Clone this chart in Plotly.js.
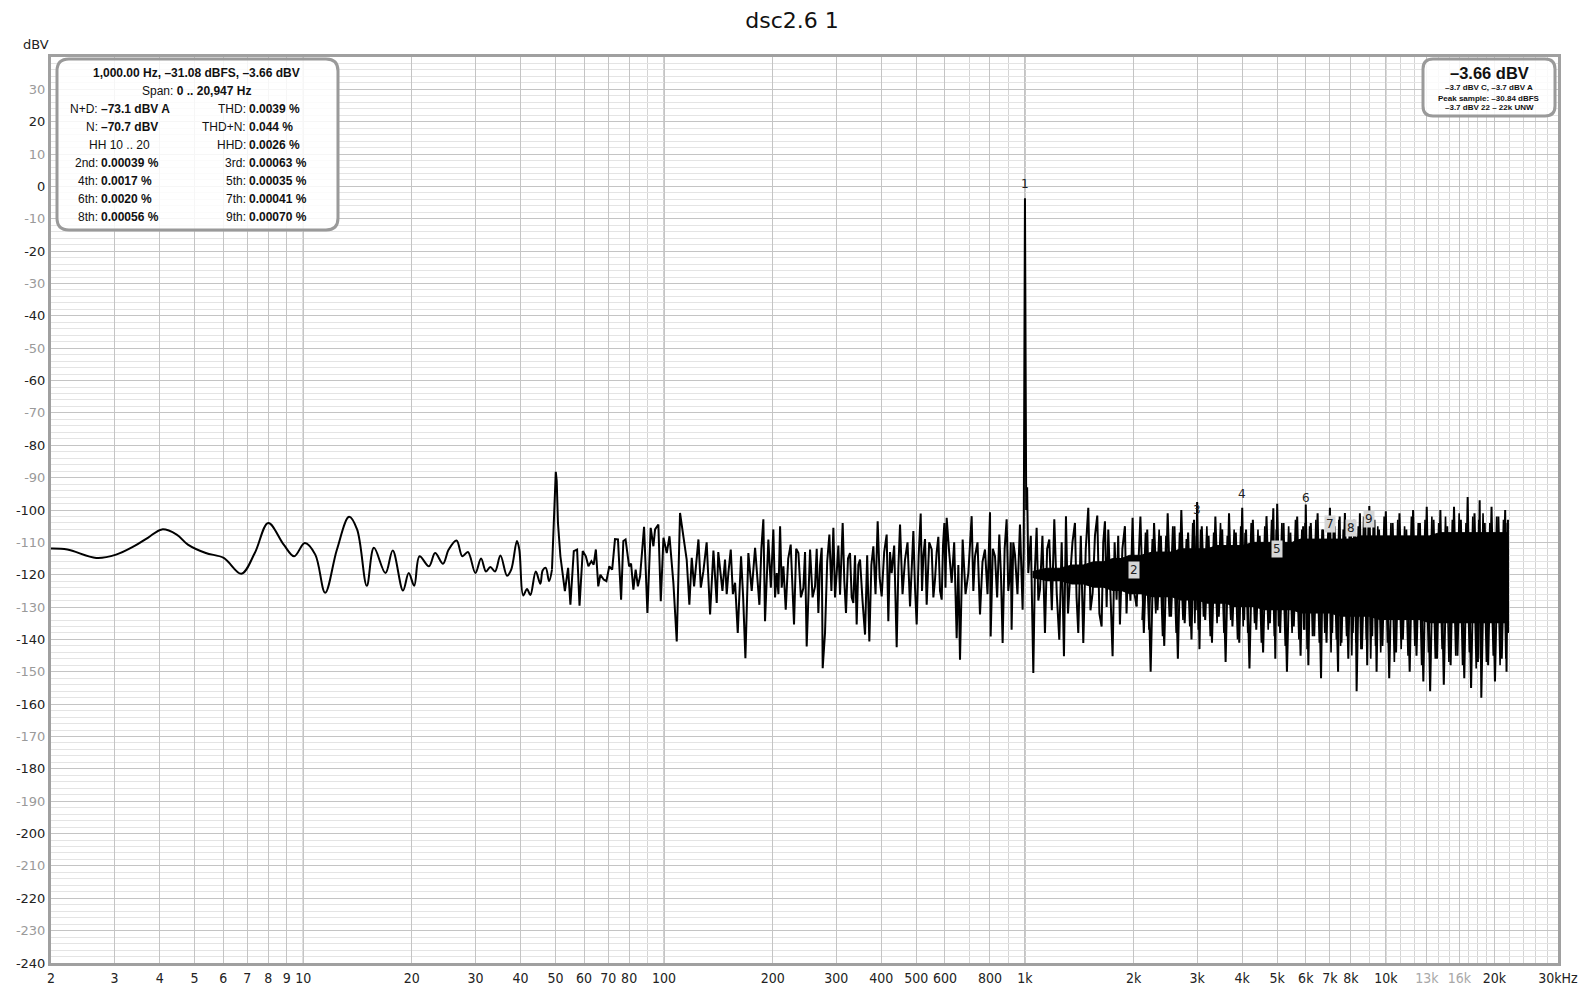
<!DOCTYPE html>
<html><head><meta charset="utf-8">
<script src="https://cdn.plot.ly/plotly-3.0.1.min.js"></script>
<style>html,body{margin:0;padding:0;background:#fff}#chart{width:1584px;height:989px}</style>
</head><body><div id="chart"></div>
<script>
// ---- data ----
const lowFreq = [2, 2.22, 2.67, 3.03, 3.40, 3.71, 4.06, 4.46, 4.79, 5.37,
  6.02, 6.74, 7.34, 8.0, 8.83, 9.44, 10.1, 10.8, 11.5, 12.4,
  13.4, 14.1, 15.0, 15.7, 16.9, 17.7, 18.9, 19.6, 20.3, 21.0,
  22.3, 23.2, 24.4, 25.3, 26.6, 27.6, 28.6, 30.0, 31.1, 32.1,
  33.0, 34.0, 35.2, 36.7, 37.7, 39.1, 39.7, 40.7, 41.7, 42.6,
  44.1, 45.4, 46.1, 47.0, 48.0, 48.9];
const lowLevel = [-111.9, -112.2, -114.8, -113.8, -111.2, -108.6, -106.0, -107.6, -110.7, -113.3,
  -114.8, -119.7, -113.3, -104.0, -110.7, -114.3, -110.2, -113.8, -125.6, -112.2,
  -102.1, -106.0, -123.4, -111.7, -119.5, -112.5, -124.9, -119.5, -123.4, -114.3,
  -117.4, -113.3, -116.6, -112.2, -109.4, -114.3, -113.0, -119.5, -115.0, -119.0,
  -117.6, -119.0, -114.1, -120.3, -118.4, -109.6, -112.2, -126.4, -124.4, -126.3,
  -119.0, -122.8, -118.6, -117.9, -122.0, -118.4];

// 49 Hz .. 2 kHz
const midFreq = [48.9, 49.4, 49.8, 50.1, 50.4, 50.8, 51.6, 53.1, 54.2, 55.0,
  56.2, 57.4, 58.3, 59.5, 60.7, 61.7, 62.9, 63.8, 64.7, 65.7,
  66.6, 68.0, 69.2, 70.5, 71.8, 73.1, 74.5, 76.0, 77.1, 78.2,
  80.0, 81.0, 82.2, 83.4, 84.6, 85.8, 88.0, 89.9, 91.8, 93.4,
  94.4, 96.4, 97.9, 99.6, 101.7, 103.5, 106.1, 108.4, 110.7, 113.1,
  115.5, 117.5, 119.3, 121.1,
  124.5, 126.4, 128.5, 131.2, 134.1, 137.0, 139.9, 141.3, 142.9, 145.1,
  147.5, 149.1, 150.7, 153.0, 155.1, 157.3, 160.0, 163.4, 165.6, 168.0,
  171.2, 174.9, 178.7, 181.2, 183.7, 186.0, 188.4, 190.4, 194.5, 197.6,
  200.8, 203.0, 205.2, 207.4, 209.6, 211.8, 214.1, 217.3, 220.8, 224.3,
  226.7, 229.1, 232.3, 235.6, 239.4, 243.2, 245.8, 248.4, 253.8, 257.9,
  262.0, 264.8, 267.6, 270.5, 273.4, 275.1, 279.2, 283.1, 287.1, 290.8,
  294.5, 297.6, 300.8, 304.0, 307.3, 309.9, 312.5, 315.8, 319.2, 323.3,
  327.5, 331.0, 334.5, 338.1, 341.7, 345.4, 349.1, 354.7, 360.4, 365.4,
  370.5, 375.3, 380.1, 385.4, 390.7, 395.7, 400.8, 407.3, 413.8, 418.2,
  422.7, 427.2, 434.1, 441.1, 445.8, 450.6, 457.9, 465.2, 472.7, 480.3,
  485.4, 490.6, 495.8, 501.1, 507.6, 514.1, 518.5, 522.9, 528.5, 534.1,
  542.8, 551.5, 557.4, 563.3, 569.3, 575.4, 581.6, 587.8, 592.8, 597.9,
  602.3, 606.8, 616.6, 626.5, 636.6, 646.8, 653.7, 660.7, 672.0, 684.4,
  696.8, 704.2, 711.7, 719.3, 727.0, 738.8, 750.6, 762.7, 774.9, 787.5,
  800.1, 803.5, 814.7, 826.0, 837.4, 848.9, 858.0, 867.2, 878.4, 889.6,
  899.1, 908.7, 913.5, 918.4, 928.2, 938.1, 953.3, 968.6, 985.2, 992,
  996, 998, 1000, 1002, 1004, 1008, 1014,
  1021.5, 1038, 1054.7, 1066, 1077.3, 1089, 1100.5, 1118, 1136.1, 1152,
  1167.9, 1187, 1205.8, 1225, 1244.9, 1264, 1282.5, 1299.0, 1316, 1332.6,
  1354, 1375.7, 1390, 1405.3, 1428, 1450.9, 1474, 1497.9, 1519, 1539.9,
  1563, 1586.4, 1608, 1630.9, 1648, 1666, 1684, 1701.8, 1725, 1749.3,
  1772, 1794.4, 1813, 1833.0, 1862, 1892.4, 1912, 1933.1, 1960, 1987.2,
  2012, 2038.6];
const midLevel = [-118.4, -104, -91, -88.2, -91, -104, -114.3, -125.1, -117.9, -129.3,
  -112.7, -112.2, -129.6, -112.7, -114.3, -117.4, -115.8, -116.9, -112.2, -123.6,
  -120.0, -121.5, -122.0, -117.4, -118.4, -109.0, -109.1, -127.7, -109.6, -109.1,
  -117.4, -116.6, -124.6, -118.4, -123.6, -120.5, -105.2, -131.8, -105.5, -111.2,
  -106.0, -104.5, -128.2, -108.6, -113.3, -108.1, -122.5, -140.6, -100.9, -108.1,
  -115.3, -129.3, -114.8, -123.6,
  -109.1, -124, -118.9, -110, -132.3, -112.5, -128.7, -113, -117.4, -125,
  -115.3, -126, -119.5, -112.2, -126, -122.5, -138.0, -114.3, -127, -145.8,
  -113.3, -125, -111.7, -120, -129.3, -112, -102.9, -134.4, -109.1, -124,
  -106.0, -127, -119.5, -126, -105.0, -124, -117.4, -130.8, -115, -110.7,
  -122, -135.4, -112, -113.3, -127, -124.1, -113, -142.2, -112.2, -127,
  -123.6, -112, -131.8, -117, -111.7, -148.9, -138.0, -116, -107.6, -125,
  -105.5, -127, -119.5, -111, -126.2, -115, -104.0, -122, -131.8, -115,
  -113.3, -127, -128.7, -114, -135.4, -117, -115.3, -128, -138.5, -114,
  -140.6, -117, -111.2, -126, -103.5, -121, -126.7, -113, -107.6, -134.4,
  -113, -119.5, -111, -142.4, -118, -104.5, -126, -115.3, -110, -129.8,
  -116, -106.5, -124, -135.4, -114, -101.1, -125, -114.3, -109, -129.3,
  -110, -112.2, -127, -121.5, -113, -108.3, -125, -127.7, -111, -104.0,
  -124, -102.4, -113, -122.5, -110, -139.6, -117, -146.3, -109.1, -126,
  -119.5, -112, -101.9, -125, -114.3, -110, -132.3, -116, -112.2, -126,
  -100.7, -139.1, -112, -114.3, -127, -107.6, -120, -141.1, -112, -102.9,
  -125, -119.5, -110, -137.0, -110, -113.8, -126, -104.5, -130.8, -112,
  -80, -30, -3.66, -30, -80, -100, -93,
  -119.5, -108, -150.4, -118, -105.5, -128, -124.6, -108, -138.0, -112,
  -109.1, -131, -102.9, -126, -140.1, -110, -145.2, -101.9, -132, -121.5,
  -110, -104.0, -127, -138.0, -108, -141.1, -112, -99.3, -131, -125.6,
  -108, -101.7, -132, -136.0, -110, -103.5, -130, -106.0, -128, -145.2,
  -110, -127.7, -108, -135.4, -112, -105.0, -132, -114.3, -128, -102.4,
  -126, -129.8];

// 2 kHz .. 22 kHz spikes (alternating up / down)
const hiFreq = [2089, 2135, 2182, 2230, 2279, 2329, 2380, 2432, 2486, 2540,
  2596, 2653, 2712, 2771, 2832, 2894, 2940, 2975, 3000, 3045,
  3090, 3158, 3227, 3298, 3370, 3444, 3520, 3598, 3677, 3758,
  3840, 3925, 4000, 4050, 4099, 4189, 4281, 4375, 4471, 4570,
  4670, 4773, 4878, 4940, 5000, 5095, 5207, 5321, 5438, 5558,
  5680, 5805, 5900, 5950, 6000, 6100, 6196, 6332, 6471, 6614,
  6700, 6850, 7000, 7100, 7215, 7374, 7450, 7536, 7702, 7871,
  8000, 8100, 8221, 8300, 8476, 8587, 8776, 8880, 9000, 9166,
  9300, 9427, 9574, 9784, 10000, 10219, 10444, 10674, 10909, 11149,
  11394, 11645, 11901, 12163, 12430, 12704, 12983, 13269, 13561, 13859,
  14164, 14476, 14794, 15120, 15452, 15792, 16140, 16495, 16858, 17229,
  17608, 17995, 18200, 18391, 18796, 19209, 19632, 20064, 20505, 20956,
  21417, 21600, 21800, 21810];
const hiLevel = [-102, -138, -106, -150, -104, -131, -108, -142, -101, -133,
  -105, -146, -100, -135, -107, -140, -103, -131, -97.5, -143,
  -105, -134, -108, -141, -102, -133, -106, -147, -101, -136,
  -107, -141, -99.3, -134, -106, -149, -103, -137, -108, -144,
  -101.9, -135, -99.5, -146, -98.1, -138, -104, -150, -107, -136,
  -102, -145, -105, -137, -98.3, -148, -104, -139, -101, -152,
  -106, -141, -99.3, -138, -105, -150, -102, -141, -100.9, -146,
  -104, -138, -107, -156, -101, -143, -105, -148, -98.8, -139,
  -103, -150, -106, -142, -100.4, -152, -104, -144, -101, -140,
  -106, -150, -100, -145, -104, -153, -99, -156, -103, -146,
  -100, -154, -105, -148, -99, -145, -103, -152, -96, -155,
  -101, -147, -97, -158, -104, -148, -99, -153, -102, -146,
  -100, -150, -103, -138];
// the bins in between the spikes above
const hiFreq2 = [2112, 2158, 2206, 2254, 2304, 2354, 2406, 2459, 2513, 2568,
  2624, 2682, 2741, 2801, 2863, 2917, 2957, 2988, 3022, 3067,
  3124, 3192, 3262, 3334, 3407, 3482, 3559, 3637, 3717, 3799,
  3882, 3962, 4025, 4074, 4144, 4235, 4328, 4423, 4520, 4620,
  4721, 4825, 4909, 4970, 5047, 5151, 5264, 5379, 5498, 5619,
  5742, 5852, 5925, 5975, 6050, 6148, 6264, 6401, 6542, 6657,
  6775, 6925, 7050, 7157, 7294, 7412, 7493, 7619, 7786, 7935,
  8050, 8160, 8260, 8388, 8531, 8681, 8828, 8940, 9083, 9233,
  9363, 9500, 9679, 9892, 10109, 10331, 10559, 10791, 11029, 11271,
  11519, 11773, 12032, 12296, 12567, 12843, 13126, 13415, 13710, 14011,
  14320, 14635, 14957, 15286, 15622, 15966, 16317, 16676, 17043, 17418,
  17801, 18097, 18295, 18593, 19002, 19420, 19848, 20284, 20730, 21186,
  21508, 21700];
const hiLevel2 = [-134, -107, -137, -109, -132, -106, -139, -108, -133, -105,
  -138, -107, -134, -109, -136, -104, -135, -108, -137, -106,
  -133, -105, -139, -107, -135, -104, -138, -108, -134, -106,
  -140, -105, -136, -107, -138, -104, -135, -106, -141, -105,
  -137, -103, -139, -106, -136, -104, -142, -105, -138, -103,
  -140, -106, -137, -104, -143, -105, -139, -103, -141, -106,
  -138, -104, -144, -105, -140, -103, -142, -106, -139, -104,
  -145, -103, -141, -105, -143, -102, -140, -104, -146, -103,
  -142, -105, -144, -102, -141, -104, -147, -103, -143, -105,
  -145, -102, -142, -104, -148, -103, -144, -102, -146, -104,
  -143, -102, -147, -103, -145, -101, -148, -104, -144, -102,
  -149, -103, -146, -101, -147, -104, -145, -102, -148, -103,
  -146, -104];

// dense noise core (upper / lower edge of the solid black band)
const bandFreq = [1050, 1150, 1250, 1350, 1450, 1550, 1650, 1750, 1850, 1950,
  2100, 2250, 2400, 2550, 2700, 2850, 3000, 3200, 3400, 3600,
  3800, 4000, 4300, 4600, 4900, 5200, 5500, 5800, 6200, 6600,
  7000, 7500, 8000, 8500, 9000, 9600, 10200, 10900, 11600, 12400,
  13200, 14100, 15000, 16000, 17000, 18000, 19000, 20000, 21000, 21800];
const bandTop = [-119, -118, -118, -117, -117, -116, -116, -115, -115, -114,
  -114, -113, -113, -113, -112, -112, -112, -112, -111, -111,
  -111, -111, -110, -110, -110, -110, -110, -109, -109, -109,
  -109, -109, -109, -108, -108, -108, -108, -108, -108, -108,
  -108, -107, -107, -107, -107, -107, -107, -107, -107, -107];
const bandBottom = [-121, -122, -122, -123, -123, -124, -124, -125, -125, -126,
  -126, -127, -127, -127, -128, -128, -128, -129, -129, -129,
  -130, -130, -130, -131, -131, -131, -131, -132, -132, -132,
  -132, -133, -133, -133, -133, -134, -134, -134, -134, -134,
  -135, -135, -135, -135, -135, -135, -135, -135, -135, -135];

const harmFreq = [1000, 2000, 3000, 4000, 5000, 6000, 7000, 8000, 9000];
const harmLevel = [0.8, -118.4, -100.1, -95.0, -112.2, -96.2, -104.3, -105.5, -102.7];
const harmLabel = ['1', '2', '3', '4', '5', '6', '7', '8', '9'];
const harmBoxed = [false, true, false, false, true, false, true, true, true];

const xTickVals = [2, 3, 4, 5, 6, 7, 8, 9, 10, 20, 30, 40, 50, 60, 70, 80, 100, 200, 300, 400, 500, 600, 800,
  1000, 2000, 3000, 4000, 5000, 6000, 7000, 8000, 10000, 13000, 16000, 20000, 30000];
const xTickText = ['2', '3', '4', '5', '6', '7', '8', '9', '10', '20', '30', '40', '50', '60', '70', '80', '100', '200', '300', '400', '500', '600', '800',
  '1k', '2k', '3k', '4k', '5k', '6k', '7k', '8k', '10k', '13k', '16k', '20k', '30kHz'];
const xDimTicks = ['13k', '16k'];
const xMinorGrid = [90, 700, 900, 9000, 11000, 12000, 14000, 15000, 17000, 18000, 19000, 22000, 24000, 26000, 28000];
const xDecades = [10, 100, 1000, 10000];
const yTickVals = [-240, -230, -220, -210, -200, -190, -180, -170, -160, -150, -140, -130, -120, -110, -100,
  -90, -80, -70, -60, -50, -40, -30, -20, -10, 0, 10, 20, 30];

const infoTitle = '1,000.00 Hz, –31.08 dBFS, –3.66 dBV';
const infoSpan = ['Span:', '0 .. 20,947 Hz'];
const infoLeft = [['N+D:', '–73.1 dBV A'], ['N:', '–70.7 dBV'], ['HH 10 .. 20', ''], ['2nd:', '0.00039 %'], ['4th:', '0.0017 %'], ['6th:', '0.0020 %'], ['8th:', '0.00056 %']];
const infoRight = [['THD:', '0.0039 %'], ['THD+N:', '0.044 %'], ['HHD:', '0.0026 %'], ['3rd:', '0.00063 %'], ['5th:', '0.00035 %'], ['7th:', '0.00041 %'], ['9th:', '0.00070 %']];
const levelBox = ['–3.66 dBV', '–3.7 dBV C, –3.7 dBV A', 'Peak sample: –30.84 dBFS', '–3.7 dBV 22 – 22k UNW'];

// ---- layout helpers (pixel -> paper) ----
const PL = 51, PR = 1558, PT = 57, PB = 963;
const px2x = p => (p - PL) / (PR - PL);
const py2y = p => (PB - p) / (PB - PT);
const XMIN = Math.log10(2), XMAX = Math.log10(30000);
const f2x = f => (Math.log10(f) - XMIN) / (XMAX - XMIN);
function roundRect(x0, y0, x1, y1, r) {
  const P = (x, y) => px2x(x).toFixed(5) + ',' + py2y(y).toFixed(5);
  return 'M' + P(x0 + r, y0) + ' L' + P(x1 - r, y0) + ' Q' + P(x1, y0) + ' ' + P(x1, y0 + r) +
    ' L' + P(x1, y1 - r) + ' Q' + P(x1, y1) + ' ' + P(x1 - r, y1) +
    ' L' + P(x0 + r, y1) + ' Q' + P(x0, y1) + ' ' + P(x0, y1 - r) +
    ' L' + P(x0, y0 + r) + ' Q' + P(x0, y0) + ' ' + P(x0 + r, y0) + ' Z';
}

const lineStyle = {color: '#000', width: 2};
const traces = [
  {x: bandFreq, y: bandBottom, type: 'scatter', mode: 'lines', line: {width: 0, color: '#000'}, hoverinfo: 'skip'},
  {x: bandFreq, y: bandTop, type: 'scatter', mode: 'lines', fill: 'tonexty', fillcolor: '#000', line: {width: 1, color: '#000'}, hoverinfo: 'skip'},
  {x: hiFreq2, y: hiLevel2, type: 'scatter', mode: 'lines', line: {color: '#000', width: 1.6}},
  {x: lowFreq, y: lowLevel, type: 'scatter', mode: 'lines', line: {color: '#000', width: 2, shape: 'spline', smoothing: 1}},
  {x: midFreq, y: midLevel, type: 'scatter', mode: 'lines', line: lineStyle},
  {x: [midFreq[midFreq.length - 1]].concat(hiFreq), y: [midLevel[midLevel.length - 1]].concat(hiLevel), type: 'scatter', mode: 'lines', line: lineStyle}
];

const boxFont = 'Liberation Sans, Arial, sans-serif';
const ann = [];
ann.push({xref: 'paper', yref: 'paper', x: px2x(36), y: py2y(45), text: 'dBV', showarrow: false,
  font: {family: 'DejaVu Sans, sans-serif', size: 13, color: '#222'}, xanchor: 'center', yanchor: 'middle'});
ann.push({xref: 'paper', yref: 'paper', x: px2x(196), y: py2y(73), text: '<b>' + infoTitle + '</b>', showarrow: false,
  font: {family: boxFont, size: 12, color: '#111'}, xanchor: 'center', yanchor: 'middle'});
ann.push({xref: 'paper', yref: 'paper', x: px2x(196), y: py2y(91), text: infoSpan[0] + ' <b>' + infoSpan[1] + '</b>', showarrow: false,
  font: {family: boxFont, size: 12, color: '#111'}, xanchor: 'center', yanchor: 'middle'});
infoLeft.forEach((r, i) => {
  const y = py2y(109 + i * 18);
  if (r[1] === '') {
    ann.push({xref: 'paper', yref: 'paper', x: px2x(119), y, text: r[0], showarrow: false,
      font: {family: boxFont, size: 12, color: '#111'}, xanchor: 'center', yanchor: 'middle'});
  } else {
    ann.push({xref: 'paper', yref: 'paper', x: px2x(99), y, text: r[0], showarrow: false,
      font: {family: boxFont, size: 12, color: '#111'}, xanchor: 'right', yanchor: 'middle', borderpad: 0});
    ann.push({xref: 'paper', yref: 'paper', x: px2x(100), y, text: '<b>' + r[1] + '</b>', showarrow: false,
      font: {family: boxFont, size: 12, color: '#111'}, xanchor: 'left', yanchor: 'middle', borderpad: 0});
  }
});
infoRight.forEach((r, i) => {
  const y = py2y(109 + i * 18);
  ann.push({xref: 'paper', yref: 'paper', x: px2x(247), y, text: r[0], showarrow: false,
    font: {family: boxFont, size: 12, color: '#111'}, xanchor: 'right', yanchor: 'middle', borderpad: 0});
  ann.push({xref: 'paper', yref: 'paper', x: px2x(248), y, text: '<b>' + r[1] + '</b>', showarrow: false,
    font: {family: boxFont, size: 12, color: '#111'}, xanchor: 'left', yanchor: 'middle', borderpad: 0});
});
const lbY = [73, 88, 98, 108];
const lbSize = [16.5, 8, 8, 8];
levelBox.forEach((t, i) => {
  ann.push({xref: 'paper', yref: 'paper', x: px2x(1489), y: py2y(lbY[i]), text: '<b>' + t + '</b>', showarrow: false,
    font: {family: boxFont, size: lbSize[i], color: '#111'}, xanchor: 'center', yanchor: 'middle', borderpad: 0});
});
harmFreq.forEach((f, i) => {
  ann.push({xref: 'x', yref: 'y', x: Math.log10(f), y: harmLevel[i], text: harmLabel[i], showarrow: false,
    font: {family: 'DejaVu Sans, sans-serif', size: 12, color: '#222'},
    bgcolor: harmBoxed[i] ? '#d6d6d6' : 'rgba(0,0,0,0)', borderpad: 1, xanchor: 'center', yanchor: 'middle'});
});

const shapes = [];
xDecades.forEach(f => shapes.push({type: 'line', xref: 'paper', yref: 'paper', x0: f2x(f), x1: f2x(f), y0: 0, y1: 1,
  line: {color: '#8a8a8a', width: 1}, layer: 'below'}));
shapes.push({type: 'path', xref: 'paper', yref: 'paper', path: roundRect(57, 59, 338, 230, 12),
  fillcolor: 'rgba(255,255,255,0.85)', line: {color: '#9a9a9a', width: 3}, layer: 'above'});
shapes.push({type: 'path', xref: 'paper', yref: 'paper', path: roundRect(1423, 59, 1555, 116, 10),
  fillcolor: 'rgba(255,255,255,0.85)', line: {color: '#9a9a9a', width: 3}, layer: 'above'});

const layout = {
  width: 1584, height: 989,
  margin: {l: PL, r: 1584 - PR, t: PT, b: 989 - PB},
  paper_bgcolor: '#fff', plot_bgcolor: '#fff',
  showlegend: false,
  title: {text: 'dsc2.6 1', x: 0.5, xref: 'container', xanchor: 'center', y: 1 - 20 / 989, yref: 'container', yanchor: 'middle',
    font: {family: 'DejaVu Sans, sans-serif', size: 22, color: '#111'}},
  xaxis: {
    type: 'log', range: [XMIN, XMAX], tickmode: 'array', tickvals: xTickVals,
    ticktext: xTickText.map(t => xDimTicks.includes(t) ? '<span style="color:#a8a8a8">' + t + '</span>' : t),
    ticks: '', showgrid: true, gridcolor: '#c4c4c4', gridwidth: 1, zeroline: false,
    showline: true, linecolor: '#a0a0a0', linewidth: 3, mirror: true,
    tickfont: {family: 'DejaVu Sans Condensed, Liberation Sans Narrow, DejaVu Sans, sans-serif', size: 14, color: '#222'},
    minor: {tickmode: 'array', tickvals: xMinorGrid, showgrid: true, gridcolor: '#d4d4d4', gridwidth: 1, ticks: ''}
  },
  yaxis: {
    range: [-240, 40], tickmode: 'array', tickvals: yTickVals,
    ticktext: yTickVals.map(v => (v % 20 === 0) ? String(v) : '<span style="color:#9a9a9a">' + v + '</span>'),
    ticks: '', showgrid: true, gridcolor: '#c4c4c4', gridwidth: 1, zeroline: false,
    showline: true, linecolor: '#a0a0a0', linewidth: 3, mirror: true,
    tickfont: {family: 'DejaVu Sans, sans-serif', size: 13, color: '#222'},
    minor: {tickmode: 'linear', tick0: 0, dtick: 2, showgrid: true, gridcolor: '#e4e4e4', gridwidth: 1, ticks: ''}
  },
  annotations: ann,
  shapes: shapes
};

Plotly.newPlot('chart', traces, layout, {staticPlot: true, displayModeBar: false});
</script>
</body></html>
